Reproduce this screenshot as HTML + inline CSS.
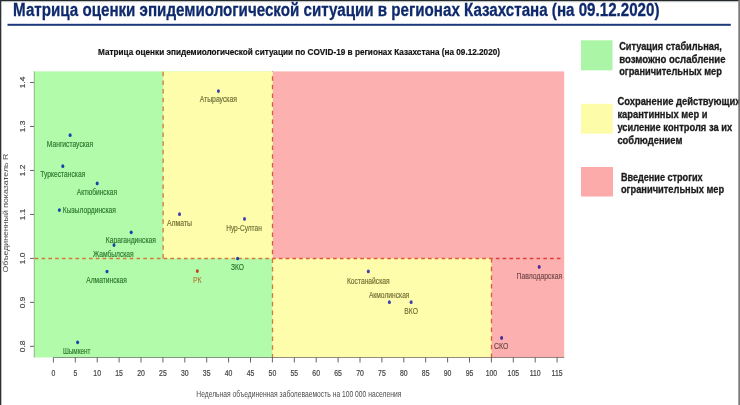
<!DOCTYPE html>
<html><head><meta charset="utf-8"><style>
html,body{margin:0;padding:0;background:#fff;}
body{width:740px;height:405px;overflow:hidden;position:relative;}
svg{position:absolute;left:0;top:0;display:block;}
svg.main{filter:blur(0.3px);}
.tk{font-family:"Liberation Sans",Arial,sans-serif;font-size:8.4px;fill:#444;stroke:#444;stroke-width:0.2px;}
.ax{font-family:"Liberation Sans",Arial,sans-serif;font-size:8.2px;fill:#4a4a4a;}
.ct{font-family:"Liberation Sans",Arial,sans-serif;font-size:9.8px;font-weight:bold;fill:#111;stroke:#111;stroke-width:0.2px;}
.lb{font-family:"Liberation Sans",Arial,sans-serif;font-size:8.3px;stroke-width:0.15px;}
.lg{font-family:"Liberation Sans",Arial,sans-serif;font-size:10.2px;font-weight:bold;fill:#1c1c1c;stroke:#1c1c1c;stroke-width:0.3px;}
.tt{font-family:"Liberation Sans",Arial,sans-serif;font-size:18.7px;font-weight:bold;fill:#0f2a6c;stroke:#0f2a6c;stroke-width:0.3px;}
</style></head><body>
<svg class="main" width="740" height="405" viewBox="0 0 740 405">
<rect width="740" height="405" fill="#fff"/>
<text x="13.1" y="16.4" class="tt" textLength="646.4" lengthAdjust="spacingAndGlyphs">Матрица оценки эпидемиологической ситуации в регионах Казахстана (на 09.12.2020)</text>
<rect x="7.5" y="23.8" width="723.3" height="2" fill="#1f3a7c"/>
<rect x="272.5" y="71.4" width="291.70" height="286.10" fill="#fdb0b0"/>
<rect x="34" y="71.4" width="238.50" height="286.10" fill="#b1fbab"/>
<rect x="163.1" y="71.4" width="109.40" height="187.00" fill="#fdfdab"/>
<rect x="272.5" y="258.4" width="219.00" height="99.10" fill="#fdfdab"/>
<line x1="34.25" y1="71.4" x2="34.25" y2="357.5" stroke="#6a8a66" stroke-width="0.6"/>
<line x1="163.1" y1="71.4" x2="163.1" y2="258.4" stroke="#d27a36" stroke-width="1.3" stroke-dasharray="4.5 4.18" stroke-dashoffset="8.33"/>
<line x1="272.5" y1="71.4" x2="272.5" y2="258.4" stroke="#dc5a36" stroke-width="1.3" stroke-dasharray="4.5 4.18" stroke-dashoffset="3.93"/>
<line x1="272.5" y1="258.4" x2="272.5" y2="357.5" stroke="#d27a36" stroke-width="1.3" stroke-dasharray="4.5 4.18" stroke-dashoffset="8.65"/>
<line x1="491.5" y1="258.4" x2="491.5" y2="357.5" stroke="#dc5a36" stroke-width="1.3" stroke-dasharray="4.5 4.18" stroke-dashoffset="0.35"/>
<line x1="34" y1="258.4" x2="272.5" y2="258.4" stroke="#d27a36" stroke-width="1.5" stroke-dasharray="3.6 3.18" stroke-dashoffset="5.98"/>
<line x1="272.5" y1="258.4" x2="491.5" y2="258.4" stroke="#dc5a36" stroke-width="1.5" stroke-dasharray="3.6 3.18" stroke-dashoffset="0.40"/>
<line x1="491.5" y1="258.4" x2="561.6" y2="258.4" stroke="#e03c38" stroke-width="1.5" stroke-dasharray="3.6 3.18" stroke-dashoffset="2.44"/>
<line x1="53.4" y1="357.5" x2="564.2" y2="357.5" stroke="#000" stroke-opacity="0.4" stroke-width="1"/>
<line x1="53.40" y1="357.5" x2="53.40" y2="362.5" stroke="#555" stroke-width="0.9"/>
<text transform="translate(53.40 376.1) scale(0.82 1)" class="tk" text-anchor="middle">0</text>
<line x1="75.30" y1="357.5" x2="75.30" y2="362.5" stroke="#555" stroke-width="0.9"/>
<text transform="translate(75.30 376.1) scale(0.82 1)" class="tk" text-anchor="middle">5</text>
<line x1="97.20" y1="357.5" x2="97.20" y2="362.5" stroke="#555" stroke-width="0.9"/>
<text transform="translate(97.20 376.1) scale(0.82 1)" class="tk" text-anchor="middle">10</text>
<line x1="119.10" y1="357.5" x2="119.10" y2="362.5" stroke="#555" stroke-width="0.9"/>
<text transform="translate(119.10 376.1) scale(0.82 1)" class="tk" text-anchor="middle">15</text>
<line x1="141.00" y1="357.5" x2="141.00" y2="362.5" stroke="#555" stroke-width="0.9"/>
<text transform="translate(141.00 376.1) scale(0.82 1)" class="tk" text-anchor="middle">20</text>
<line x1="162.90" y1="357.5" x2="162.90" y2="362.5" stroke="#555" stroke-width="0.9"/>
<text transform="translate(162.90 376.1) scale(0.82 1)" class="tk" text-anchor="middle">25</text>
<line x1="184.80" y1="357.5" x2="184.80" y2="362.5" stroke="#555" stroke-width="0.9"/>
<text transform="translate(184.80 376.1) scale(0.82 1)" class="tk" text-anchor="middle">30</text>
<line x1="206.70" y1="357.5" x2="206.70" y2="362.5" stroke="#555" stroke-width="0.9"/>
<text transform="translate(206.70 376.1) scale(0.82 1)" class="tk" text-anchor="middle">35</text>
<line x1="228.60" y1="357.5" x2="228.60" y2="362.5" stroke="#555" stroke-width="0.9"/>
<text transform="translate(228.60 376.1) scale(0.82 1)" class="tk" text-anchor="middle">40</text>
<line x1="250.50" y1="357.5" x2="250.50" y2="362.5" stroke="#555" stroke-width="0.9"/>
<text transform="translate(250.50 376.1) scale(0.82 1)" class="tk" text-anchor="middle">45</text>
<line x1="272.40" y1="357.5" x2="272.40" y2="362.5" stroke="#555" stroke-width="0.9"/>
<text transform="translate(272.40 376.1) scale(0.82 1)" class="tk" text-anchor="middle">50</text>
<line x1="294.30" y1="357.5" x2="294.30" y2="362.5" stroke="#555" stroke-width="0.9"/>
<text transform="translate(294.30 376.1) scale(0.82 1)" class="tk" text-anchor="middle">55</text>
<line x1="316.20" y1="357.5" x2="316.20" y2="362.5" stroke="#555" stroke-width="0.9"/>
<text transform="translate(316.20 376.1) scale(0.82 1)" class="tk" text-anchor="middle">60</text>
<line x1="338.10" y1="357.5" x2="338.10" y2="362.5" stroke="#555" stroke-width="0.9"/>
<text transform="translate(338.10 376.1) scale(0.82 1)" class="tk" text-anchor="middle">65</text>
<line x1="360.00" y1="357.5" x2="360.00" y2="362.5" stroke="#555" stroke-width="0.9"/>
<text transform="translate(360.00 376.1) scale(0.82 1)" class="tk" text-anchor="middle">70</text>
<line x1="381.90" y1="357.5" x2="381.90" y2="362.5" stroke="#555" stroke-width="0.9"/>
<text transform="translate(381.90 376.1) scale(0.82 1)" class="tk" text-anchor="middle">75</text>
<line x1="403.80" y1="357.5" x2="403.80" y2="362.5" stroke="#555" stroke-width="0.9"/>
<text transform="translate(403.80 376.1) scale(0.82 1)" class="tk" text-anchor="middle">80</text>
<line x1="425.70" y1="357.5" x2="425.70" y2="362.5" stroke="#555" stroke-width="0.9"/>
<text transform="translate(425.70 376.1) scale(0.82 1)" class="tk" text-anchor="middle">85</text>
<line x1="447.60" y1="357.5" x2="447.60" y2="362.5" stroke="#555" stroke-width="0.9"/>
<text transform="translate(447.60 376.1) scale(0.82 1)" class="tk" text-anchor="middle">90</text>
<line x1="469.50" y1="357.5" x2="469.50" y2="362.5" stroke="#555" stroke-width="0.9"/>
<text transform="translate(469.50 376.1) scale(0.82 1)" class="tk" text-anchor="middle">95</text>
<line x1="491.40" y1="357.5" x2="491.40" y2="362.5" stroke="#555" stroke-width="0.9"/>
<text transform="translate(491.40 376.1) scale(0.82 1)" class="tk" text-anchor="middle">100</text>
<line x1="513.30" y1="357.5" x2="513.30" y2="362.5" stroke="#555" stroke-width="0.9"/>
<text transform="translate(513.30 376.1) scale(0.82 1)" class="tk" text-anchor="middle">105</text>
<line x1="535.20" y1="357.5" x2="535.20" y2="362.5" stroke="#555" stroke-width="0.9"/>
<text transform="translate(535.20 376.1) scale(0.82 1)" class="tk" text-anchor="middle">110</text>
<line x1="557.10" y1="357.5" x2="557.10" y2="362.5" stroke="#555" stroke-width="0.9"/>
<text transform="translate(557.10 376.1) scale(0.82 1)" class="tk" text-anchor="middle">115</text>
<line x1="30" y1="346.34" x2="34" y2="346.34" stroke="#555" stroke-width="0.9"/>
<text transform="translate(24.9 346.34) scale(0.82 1) rotate(-90)" class="tk" text-anchor="middle">0.8</text>
<line x1="30" y1="302.37" x2="34" y2="302.37" stroke="#555" stroke-width="0.9"/>
<text transform="translate(24.9 302.37) scale(0.82 1) rotate(-90)" class="tk" text-anchor="middle">0.9</text>
<line x1="30" y1="258.40" x2="34" y2="258.40" stroke="#555" stroke-width="0.9"/>
<text transform="translate(24.9 258.40) scale(0.82 1) rotate(-90)" class="tk" text-anchor="middle">1.0</text>
<line x1="30" y1="214.43" x2="34" y2="214.43" stroke="#555" stroke-width="0.9"/>
<text transform="translate(24.9 214.43) scale(0.82 1) rotate(-90)" class="tk" text-anchor="middle">1.1</text>
<line x1="30" y1="170.46" x2="34" y2="170.46" stroke="#555" stroke-width="0.9"/>
<text transform="translate(24.9 170.46) scale(0.82 1) rotate(-90)" class="tk" text-anchor="middle">1.2</text>
<line x1="30" y1="126.49" x2="34" y2="126.49" stroke="#555" stroke-width="0.9"/>
<text transform="translate(24.9 126.49) scale(0.82 1) rotate(-90)" class="tk" text-anchor="middle">1.3</text>
<line x1="30" y1="82.52" x2="34" y2="82.52" stroke="#555" stroke-width="0.9"/>
<text transform="translate(24.9 82.52) scale(0.82 1) rotate(-90)" class="tk" text-anchor="middle">1.4</text>
<text transform="translate(8.0 213.1) scale(0.82 1) rotate(-90)" class="ax" text-anchor="middle" textLength="119" lengthAdjust="spacingAndGlyphs">Объединенный показатель R</text>
<text x="196.3" y="397" class="ax" textLength="205" lengthAdjust="spacingAndGlyphs">Недельная объединенная заболеваемость на 100 000 населения</text>
<text x="98" y="54.5" class="ct" textLength="402" lengthAdjust="spacingAndGlyphs">Матрица оценки эпидемиологической ситуации по COVID-19 в регионах Казахстана (на 09.12.2020)</text>
<ellipse cx="70.1" cy="135.2" rx="1.5" ry="1.85" fill="#1545aa"/>
<text x="46.8" y="146.80" class="lb" fill="#2b742b" stroke="#2b742b" textLength="46.4" lengthAdjust="spacingAndGlyphs">Мангистауская</text>
<ellipse cx="62.8" cy="166.2" rx="1.5" ry="1.85" fill="#1545aa"/>
<text x="40.3" y="177.40" class="lb" fill="#2b742b" stroke="#2b742b" textLength="45.0" lengthAdjust="spacingAndGlyphs">Туркестанская</text>
<ellipse cx="97.2" cy="183.4" rx="1.5" ry="1.85" fill="#1545aa"/>
<text x="76.8" y="195.20" class="lb" fill="#2b742b" stroke="#2b742b" textLength="40.2" lengthAdjust="spacingAndGlyphs">Актюбинская</text>
<ellipse cx="59.4" cy="210.1" rx="1.5" ry="1.85" fill="#1545aa"/>
<text x="62.8" y="212.90" class="lb" fill="#2b742b" stroke="#2b742b" textLength="53.1" lengthAdjust="spacingAndGlyphs">Кызылординская</text>
<ellipse cx="131.2" cy="232.3" rx="1.5" ry="1.85" fill="#1545aa"/>
<text x="105.8" y="243.40" class="lb" fill="#2b742b" stroke="#2b742b" textLength="50.1" lengthAdjust="spacingAndGlyphs">Карагандинская</text>
<ellipse cx="114" cy="245.1" rx="1.5" ry="1.85" fill="#1545aa"/>
<text x="93" y="257.00" class="lb" fill="#2b742b" stroke="#2b742b" textLength="40.7" lengthAdjust="spacingAndGlyphs">Жамбылская</text>
<ellipse cx="107" cy="271.5" rx="1.5" ry="1.85" fill="#1545aa"/>
<text x="86.3" y="283.40" class="lb" fill="#2b742b" stroke="#2b742b" textLength="40.5" lengthAdjust="spacingAndGlyphs">Алматинская</text>
<ellipse cx="77.6" cy="342.3" rx="1.5" ry="1.85" fill="#1545aa"/>
<text x="63" y="353.70" class="lb" fill="#2b742b" stroke="#2b742b" textLength="27.5" lengthAdjust="spacingAndGlyphs">Шымкент</text>
<ellipse cx="218.4" cy="91.1" rx="1.5" ry="1.85" fill="#4040b0"/>
<text x="199.7" y="102.20" class="lb" fill="#6e6c34" stroke="#6e6c34" textLength="37.3" lengthAdjust="spacingAndGlyphs">Атырауская</text>
<ellipse cx="179.5" cy="214.2" rx="1.5" ry="1.85" fill="#4040b0"/>
<text x="166.9" y="226.10" class="lb" fill="#6e6c34" stroke="#6e6c34" textLength="25.2" lengthAdjust="spacingAndGlyphs">Алматы</text>
<ellipse cx="244.5" cy="218.9" rx="1.5" ry="1.85" fill="#4040b0"/>
<text x="226.2" y="231.00" class="lb" fill="#6e6c34" stroke="#6e6c34" textLength="35.6" lengthAdjust="spacingAndGlyphs">Нур-Султан</text>
<ellipse cx="237.6" cy="258.5" rx="1.5" ry="1.85" fill="#1545aa"/>
<text x="231" y="270.10" class="lb" fill="#2b742b" stroke="#2b742b" textLength="13.0" lengthAdjust="spacingAndGlyphs">ЗКО</text>
<ellipse cx="197.3" cy="271.1" rx="1.5" ry="1.85" fill="#c0441c"/>
<text x="192.9" y="283.40" class="lb" fill="#b08038" stroke="#b08038" textLength="8.6" lengthAdjust="spacingAndGlyphs">РК</text>
<ellipse cx="368.3" cy="271.4" rx="1.5" ry="1.85" fill="#4040b0"/>
<text x="346.9" y="283.80" class="lb" fill="#6e6c34" stroke="#6e6c34" textLength="42.8" lengthAdjust="spacingAndGlyphs">Костанайская</text>
<ellipse cx="389.4" cy="302.2" rx="1.5" ry="1.85" fill="#4040b0"/>
<text x="368.9" y="297.50" class="lb" fill="#6e6c34" stroke="#6e6c34" textLength="40.6" lengthAdjust="spacingAndGlyphs">Акмолинская</text>
<ellipse cx="411.1" cy="302.2" rx="1.5" ry="1.85" fill="#4040b0"/>
<text x="404.3" y="314.30" class="lb" fill="#6e6c34" stroke="#6e6c34" textLength="13.6" lengthAdjust="spacingAndGlyphs">ВКО</text>
<ellipse cx="539.2" cy="266.9" rx="1.5" ry="1.85" fill="#44289a"/>
<text x="516.5" y="278.70" class="lb" fill="#6e4848" stroke="#6e4848" textLength="45.7" lengthAdjust="spacingAndGlyphs">Павлодарская</text>
<ellipse cx="501.6" cy="337.9" rx="1.5" ry="1.85" fill="#44289a"/>
<text x="494.1" y="349.00" class="lb" fill="#6e4848" stroke="#6e4848" textLength="14.3" lengthAdjust="spacingAndGlyphs">СКО</text>
<rect x="581" y="40.3" width="31.5" height="30" fill="#aaf5a6"/>
<rect x="581" y="103.8" width="31.8" height="29.8" fill="#fdfca8"/>
<rect x="581" y="167" width="32" height="29.5" fill="#fcaaaa"/>
<text x="619.2" y="50.2" class="lg" textLength="102.7" lengthAdjust="spacingAndGlyphs">Ситуация стабильная,</text>
<text x="619.2" y="62.6" class="lg" textLength="106.3" lengthAdjust="spacingAndGlyphs">возможно ослабление</text>
<text x="619.2" y="75" class="lg" textLength="102.7" lengthAdjust="spacingAndGlyphs">ограничительных мер</text>
<text x="617.4" y="105.2" class="lg" textLength="123.1" lengthAdjust="spacingAndGlyphs">Сохранение действующих</text>
<text x="617.4" y="118" class="lg" textLength="90.1" lengthAdjust="spacingAndGlyphs">карантинных мер и</text>
<text x="617.4" y="131" class="lg" textLength="114.7" lengthAdjust="spacingAndGlyphs">усиление контроля за их</text>
<text x="617.4" y="143.6" class="lg" textLength="65.0" lengthAdjust="spacingAndGlyphs">соблюдением</text>
<text x="620.9" y="180.7" class="lg" textLength="81.7" lengthAdjust="spacingAndGlyphs">Введение строгих</text>
<text x="620.9" y="193" class="lg" textLength="103.3" lengthAdjust="spacingAndGlyphs">ограничительных мер</text>
</svg>
<svg class="bd" width="740" height="405" viewBox="0 0 740 405">
<rect x="0" y="0" width="740" height="1.2" fill="#23282c"/>
<rect x="0" y="1.2" width="740" height="1.2" fill="#23282c" fill-opacity="0.12"/>
<rect x="0" y="0" width="1.3" height="405" fill="#2a3035"/>
<rect x="738.3" y="0" width="1.7" height="405" fill="#7a7a7a"/>
</svg>
</body></html>
